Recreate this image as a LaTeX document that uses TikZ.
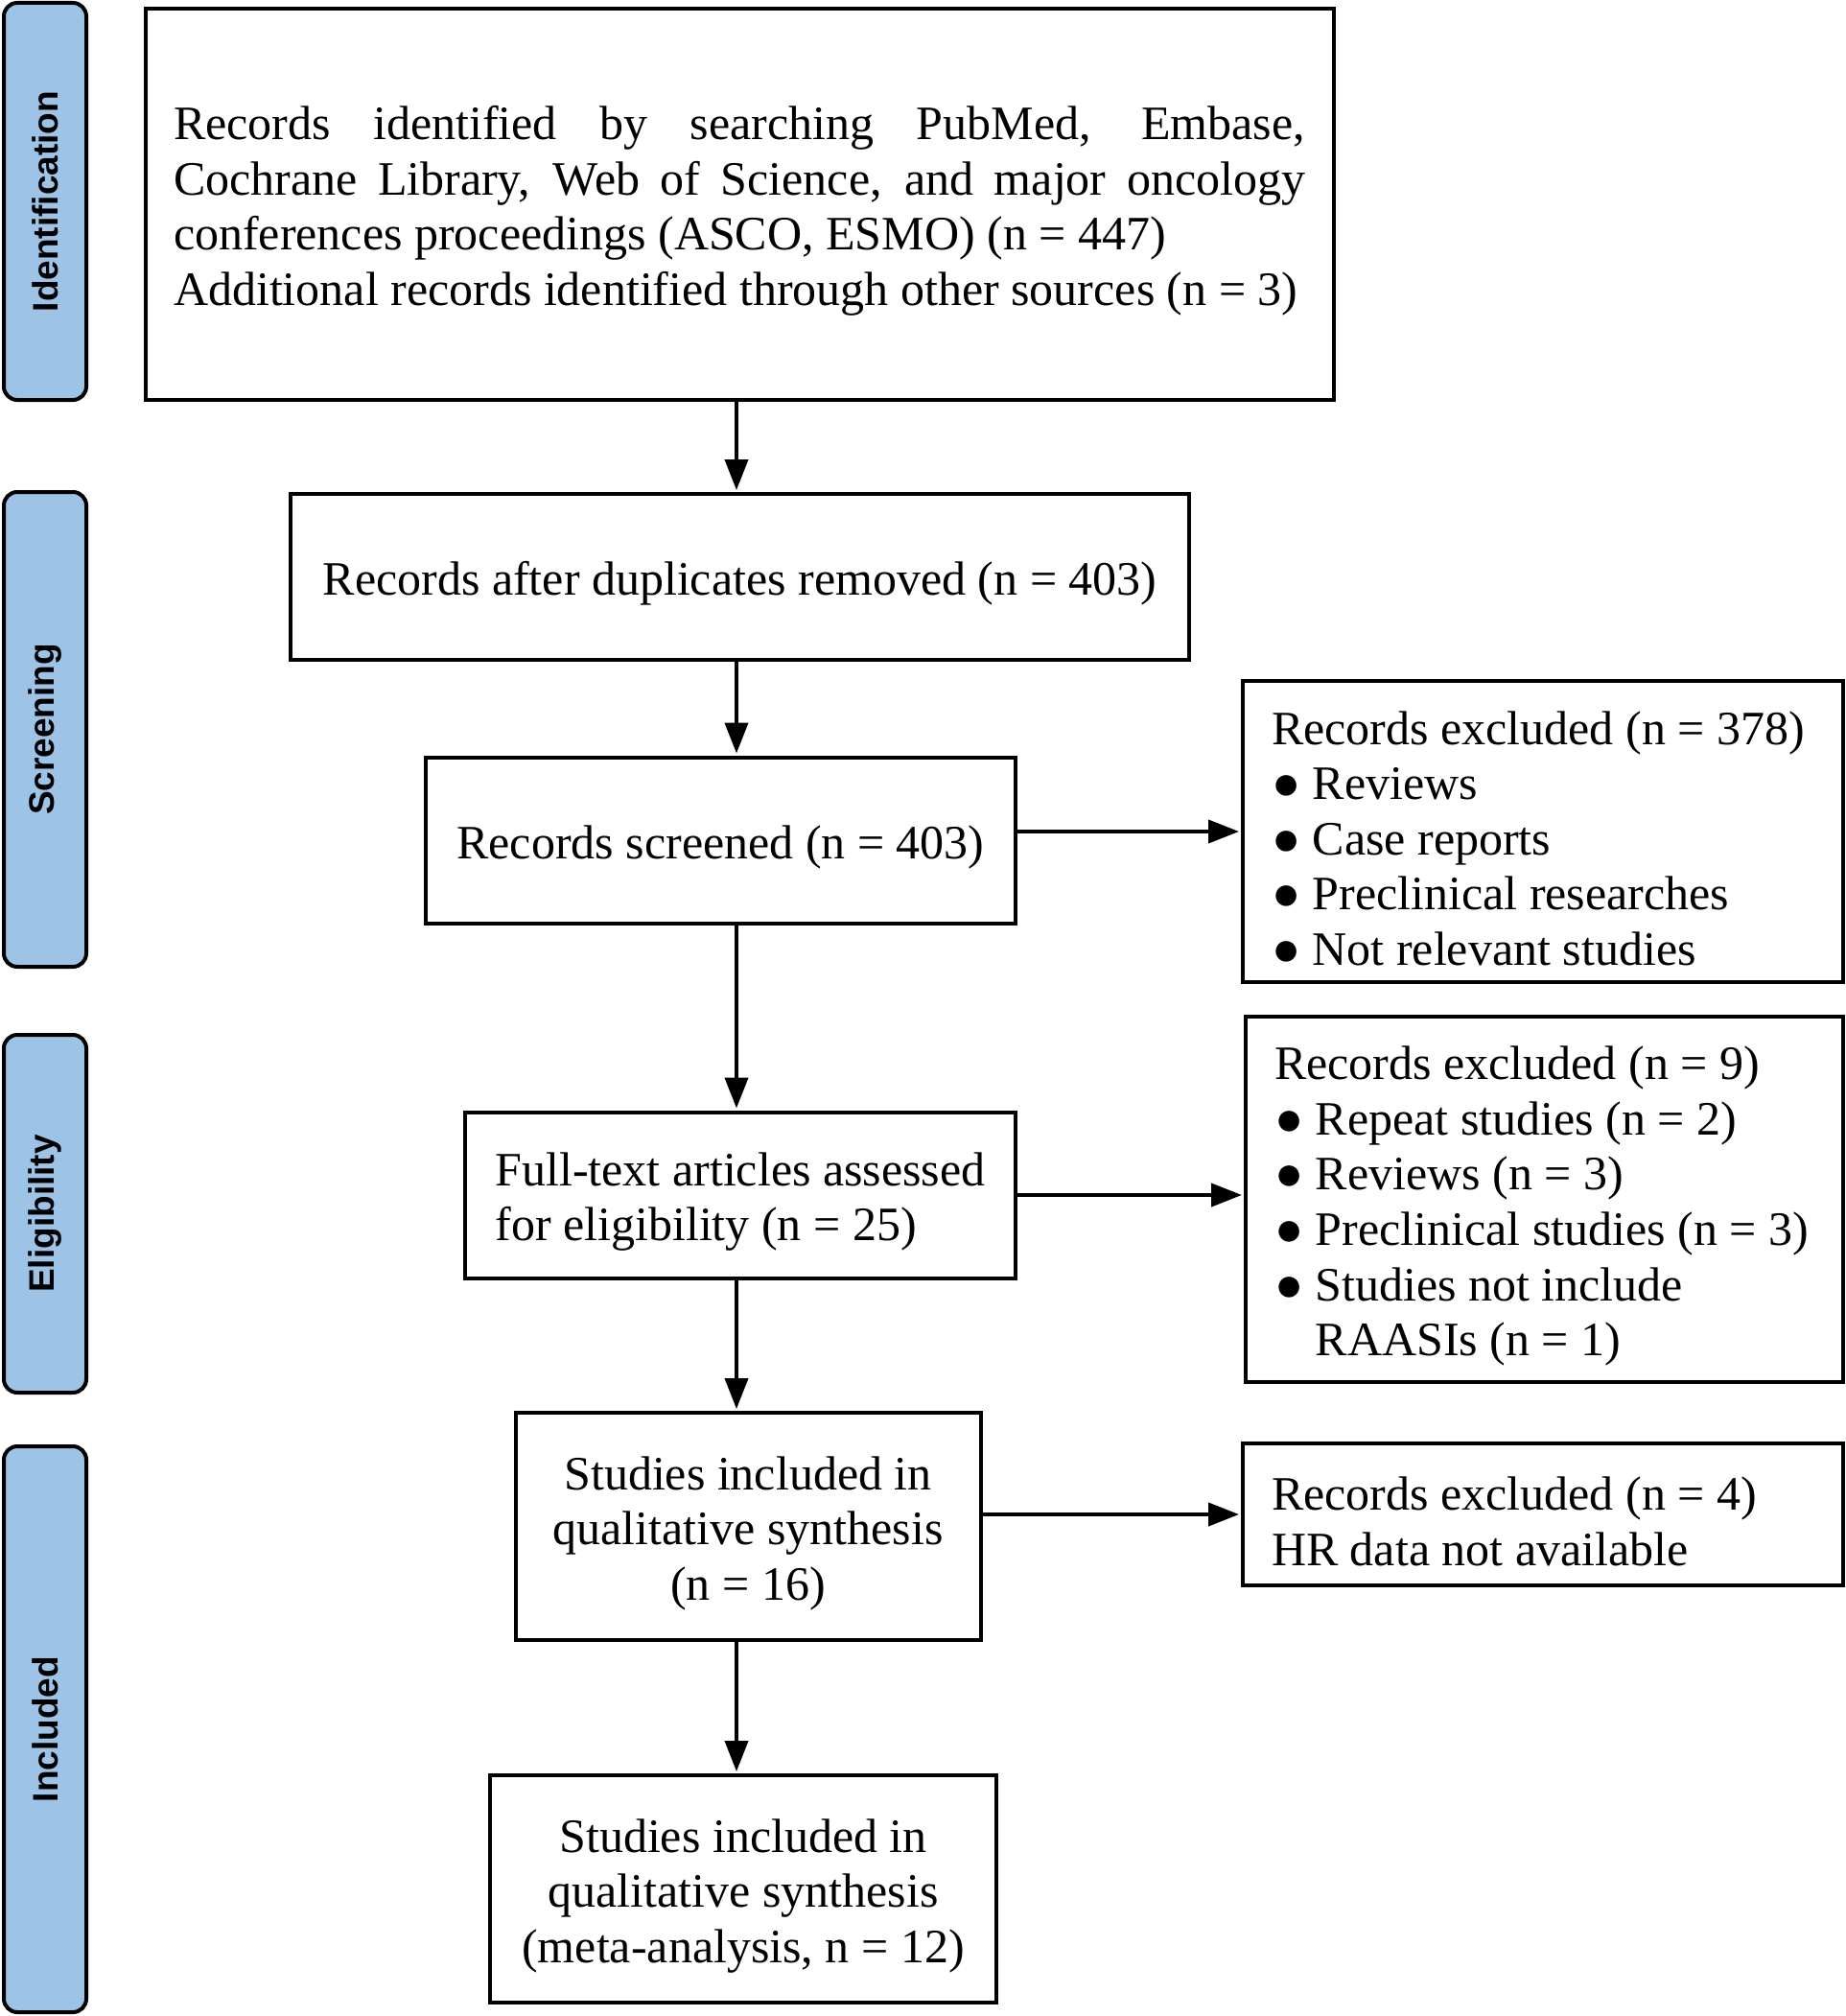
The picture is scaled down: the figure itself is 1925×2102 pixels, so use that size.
\documentclass[tikz,border=0pt]{standalone}
\usepackage{fontspec}
\setmainfont{Liberation Serif}
\newfontfamily\phasefont{Liberation Sans}
\usetikzlibrary{arrows.meta}
\definecolor{phaseblue}{RGB}{157,195,230}
\newcommand{\boxstrut}{\rule{0pt}{24.5pt}}

\begin{document}
\begin{tikzpicture}[x=0.5pt,y=-0.5pt,
		box/.style={draw,line width=2pt,font=\fontsize{25}{28.8}\selectfont,align=center,minimum height=86.5pt,
			execute at begin node={\spaceskip0pt\xspaceskip0pt\boxstrut}},
		exclbox/.style={box,align=left,inner xsep=15pt,
			execute at begin node={\spaceskip0pt\xspaceskip0pt\rule{0pt}{21pt}}},
		phase/.style={draw,line width=2pt,fill=phaseblue,rounded corners=7pt,rotate=90,minimum height=43pt,inner sep=0pt,font=\phasefont\bfseries\fontsize{18.5}{22}\selectfont},
		arrow/.style={line width=2pt,-{Triangle[length=16pt,width=12pt]},shorten >=1pt}]
	\useasboundingbox (0,0) rectangle (1925,2102);
	\fill[white] (0,0) rectangle (1925,2102);

	\node[phase,minimum width=207pt] (identification) at (47,210) {Identification};
	\node[phase,minimum width=247.5pt] (screening) at (47,760.5) {Screening};
	\node[phase,minimum width=186.5pt] (eligibility) at (47,1265.5) {Eligibility};
	\node[phase,minimum width=295pt] (included) at (47,1803) {Included};

	\node[box,minimum width=619.5pt,minimum height=204pt,text width=590pt,align=justify] (records) at (771,213) {Records identified by searching PubMed, Embase,\linebreak Cochrane Library, Web of Science, and major oncology\linebreak conferences proceedings (ASCO, ESMO) (n = 447)\\Additional records identified through other sources (n = 3)};
	\node[box,minimum width=468.5pt] (duplicates) at (771.5,601.5) {Records after duplicates removed (n = 403)};
	\node[box,minimum width=307.5pt] (screened) at (751.5,876) {Records screened (n = 403)};
	\node[exclbox,minimum height=157pt,text width=283pt] (excluded1) at (1609,867) {Records excluded (n = 378)\\● Reviews\\● Case reports\\● Preclinical researches\\● Not relevant studies};
	\node[box,align=left,minimum width=287pt] (fulltext) at (772,1246) {\boxstrut Full-text articles assessed\\for eligibility (n = 25)};
	\node[exclbox,minimum height=190.5pt,text width=281.5pt] (excluded2) at (1610.5,1250.5) {Records excluded (n = 9)\\● Repeat studies (n = 2)\\● Reviews (n = 3)\\● Preclinical studies (n = 3)\\● Studies not include\\\phantom{●} RAASIs (n = 1)};
	\node[box,minimum width=242.5pt,minimum height=118.5pt] (qualitative) at (780,1591.5) {\boxstrut Studies included in\\qualitative synthesis\\(n = 16)};
	\node[exclbox,minimum height=74pt,text width=283pt] (excluded3) at (1609,1579) {Records excluded (n = 4)\\HR data not available};
	\node[box,minimum width=264pt,minimum height=118.5pt] (quantitative) at (775,1969.5) {\boxstrut Studies included in\\qualitative synthesis\\(meta-analysis, n = 12)};

	\coordinate (spine) at (768,0);
	\foreach \a/\b in {records/duplicates,duplicates/screened,screened/fulltext,fulltext/qualitative,qualitative/quantitative}
		\draw[arrow] (\a.south -| spine) -- (\b.north -| spine);
	\draw[arrow] (screened.east |- excluded1.west) -- (excluded1.west);
	\draw[arrow] (fulltext.east) -- (fulltext.east -| excluded2.west);
	\draw[arrow] (qualitative.east |- excluded3.west) -- (excluded3.west);
\end{tikzpicture}
\end{document}
